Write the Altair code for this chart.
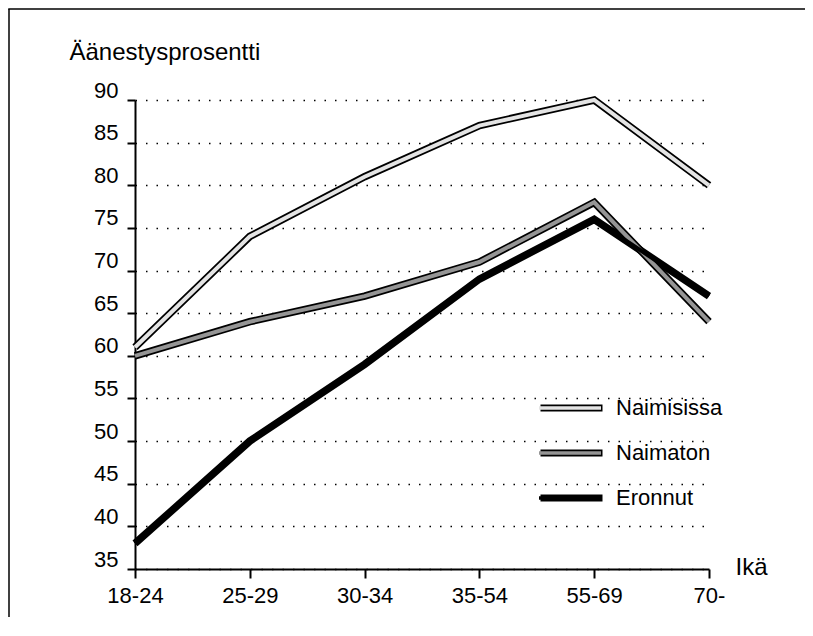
import altair as alt
import pandas as pd

ages = ["18-24", "25-29", "30-34", "35-54", "55-69", "70-"]
series = ["Naimisissa", "Naimaton", "Eronnut"]
naimisissa = [61, 74, 81, 87, 90, 80]
naimaton = [60, 64, 67, 71, 78, 64]
eronnut = [38, 50, 59, 69, 76, 67]
y_ticks = [35, 40, 45, 50, 55, 60, 65, 70, 75, 80, 85, 90]

rows = []
for name, vals in zip(series, [naimisissa, naimaton, eronnut]):
    for a, v in zip(ages, vals):
        rows.append({"Ikä": a, "Sarja": name, "Arvo": v})
df = pd.DataFrame(rows)

FONT = "Liberation Sans"

x_enc = alt.X(
    "Ikä:N", sort=ages,
    scale=alt.Scale(type="point", padding=0),
    axis=alt.Axis(
        title="Ikä", labelAngle=0, tickSize=9, labelPadding=7,
        domainWidth=2, tickWidth=2, grid=False,
        titleX=600, titleY=5, titleAlign="left", titleBaseline="alphabetic",
    ),
)
y_enc = alt.Y(
    "Arvo:Q",
    scale=alt.Scale(domain=[35, 90], nice=False, zero=False),
    axis=alt.Axis(
        values=y_ticks, title="Äänestysprosentti", tickSize=8, labelPadding=9,
        domainWidth=2, tickWidth=2, labelBaseline="alphabetic", labelOffset=-3,
        grid=True, gridDash=[1.5, 9], gridColor="black", gridWidth=1.6,
        titleAngle=0, titleX=-66, titleY=-41, titleAlign="left",
        titleBaseline="alphabetic",
    ),
)

legend_common = dict(
    orient="none", legendX=402, legendY=296, title=None,
    symbolType="stroke", symbolSize=3844, labelOffset=10,
    labelFont=FONT, labelFontSize=22, labelColor="black",
    clipHeight=24, rowPadding=21, padding=0,
)

outline = alt.Chart(df).mark_line(strokeWidth=7.5).encode(
    x=x_enc, y=y_enc,
    color=alt.Color(
        "Sarja:N",
        scale=alt.Scale(domain=series, range=["black", "black", "black"]),
        legend=alt.Legend(symbolStrokeWidth=7, **legend_common),
    ),
)

inner = alt.Chart(df).mark_line(strokeWidth=4).encode(
    x=x_enc, y=y_enc,
    color=alt.Color(
        "Sarja:N",
        scale=alt.Scale(domain=series, range=["#e4e4e4", "#959595", "black"]),
        legend=alt.Legend(symbolStrokeWidth=3.5, labelExpr="''", **legend_common),
    ),
)

frame_df = pd.DataFrame({"k": [0]})
frame_left = alt.Chart(frame_df).mark_rule(color="black", strokeWidth=1.5).encode(
    x=alt.value(-126), y=alt.value(-91), y2=alt.value(530)
)
frame_top = alt.Chart(frame_df).mark_rect(color="black", strokeWidth=0).encode(
    x=alt.value(-126.75), x2=alt.value(670), y=alt.value(-91.75), y2=alt.value(-90.25)
)

chart = (
    alt.layer(outline, inner, frame_left, frame_top)
    .resolve_scale(color="independent")
    .resolve_legend(color="independent")
    .properties(
        width=574, height=469,
        autosize=alt.AutoSizeParams(type="none"),
        padding={"left": 127, "top": 92, "right": 96, "bottom": 48},
    )
    .configure_view(stroke=None)
    .configure_axis(
        labelFont=FONT, titleFont=FONT, labelFontSize=22, titleFontSize=24,
        titleFontWeight="normal", labelColor="black", titleColor="black",
        domainColor="black", tickColor="black",
    )
)

chart.save("out.html", embed_options={"renderer": "svg", "actions": False})
